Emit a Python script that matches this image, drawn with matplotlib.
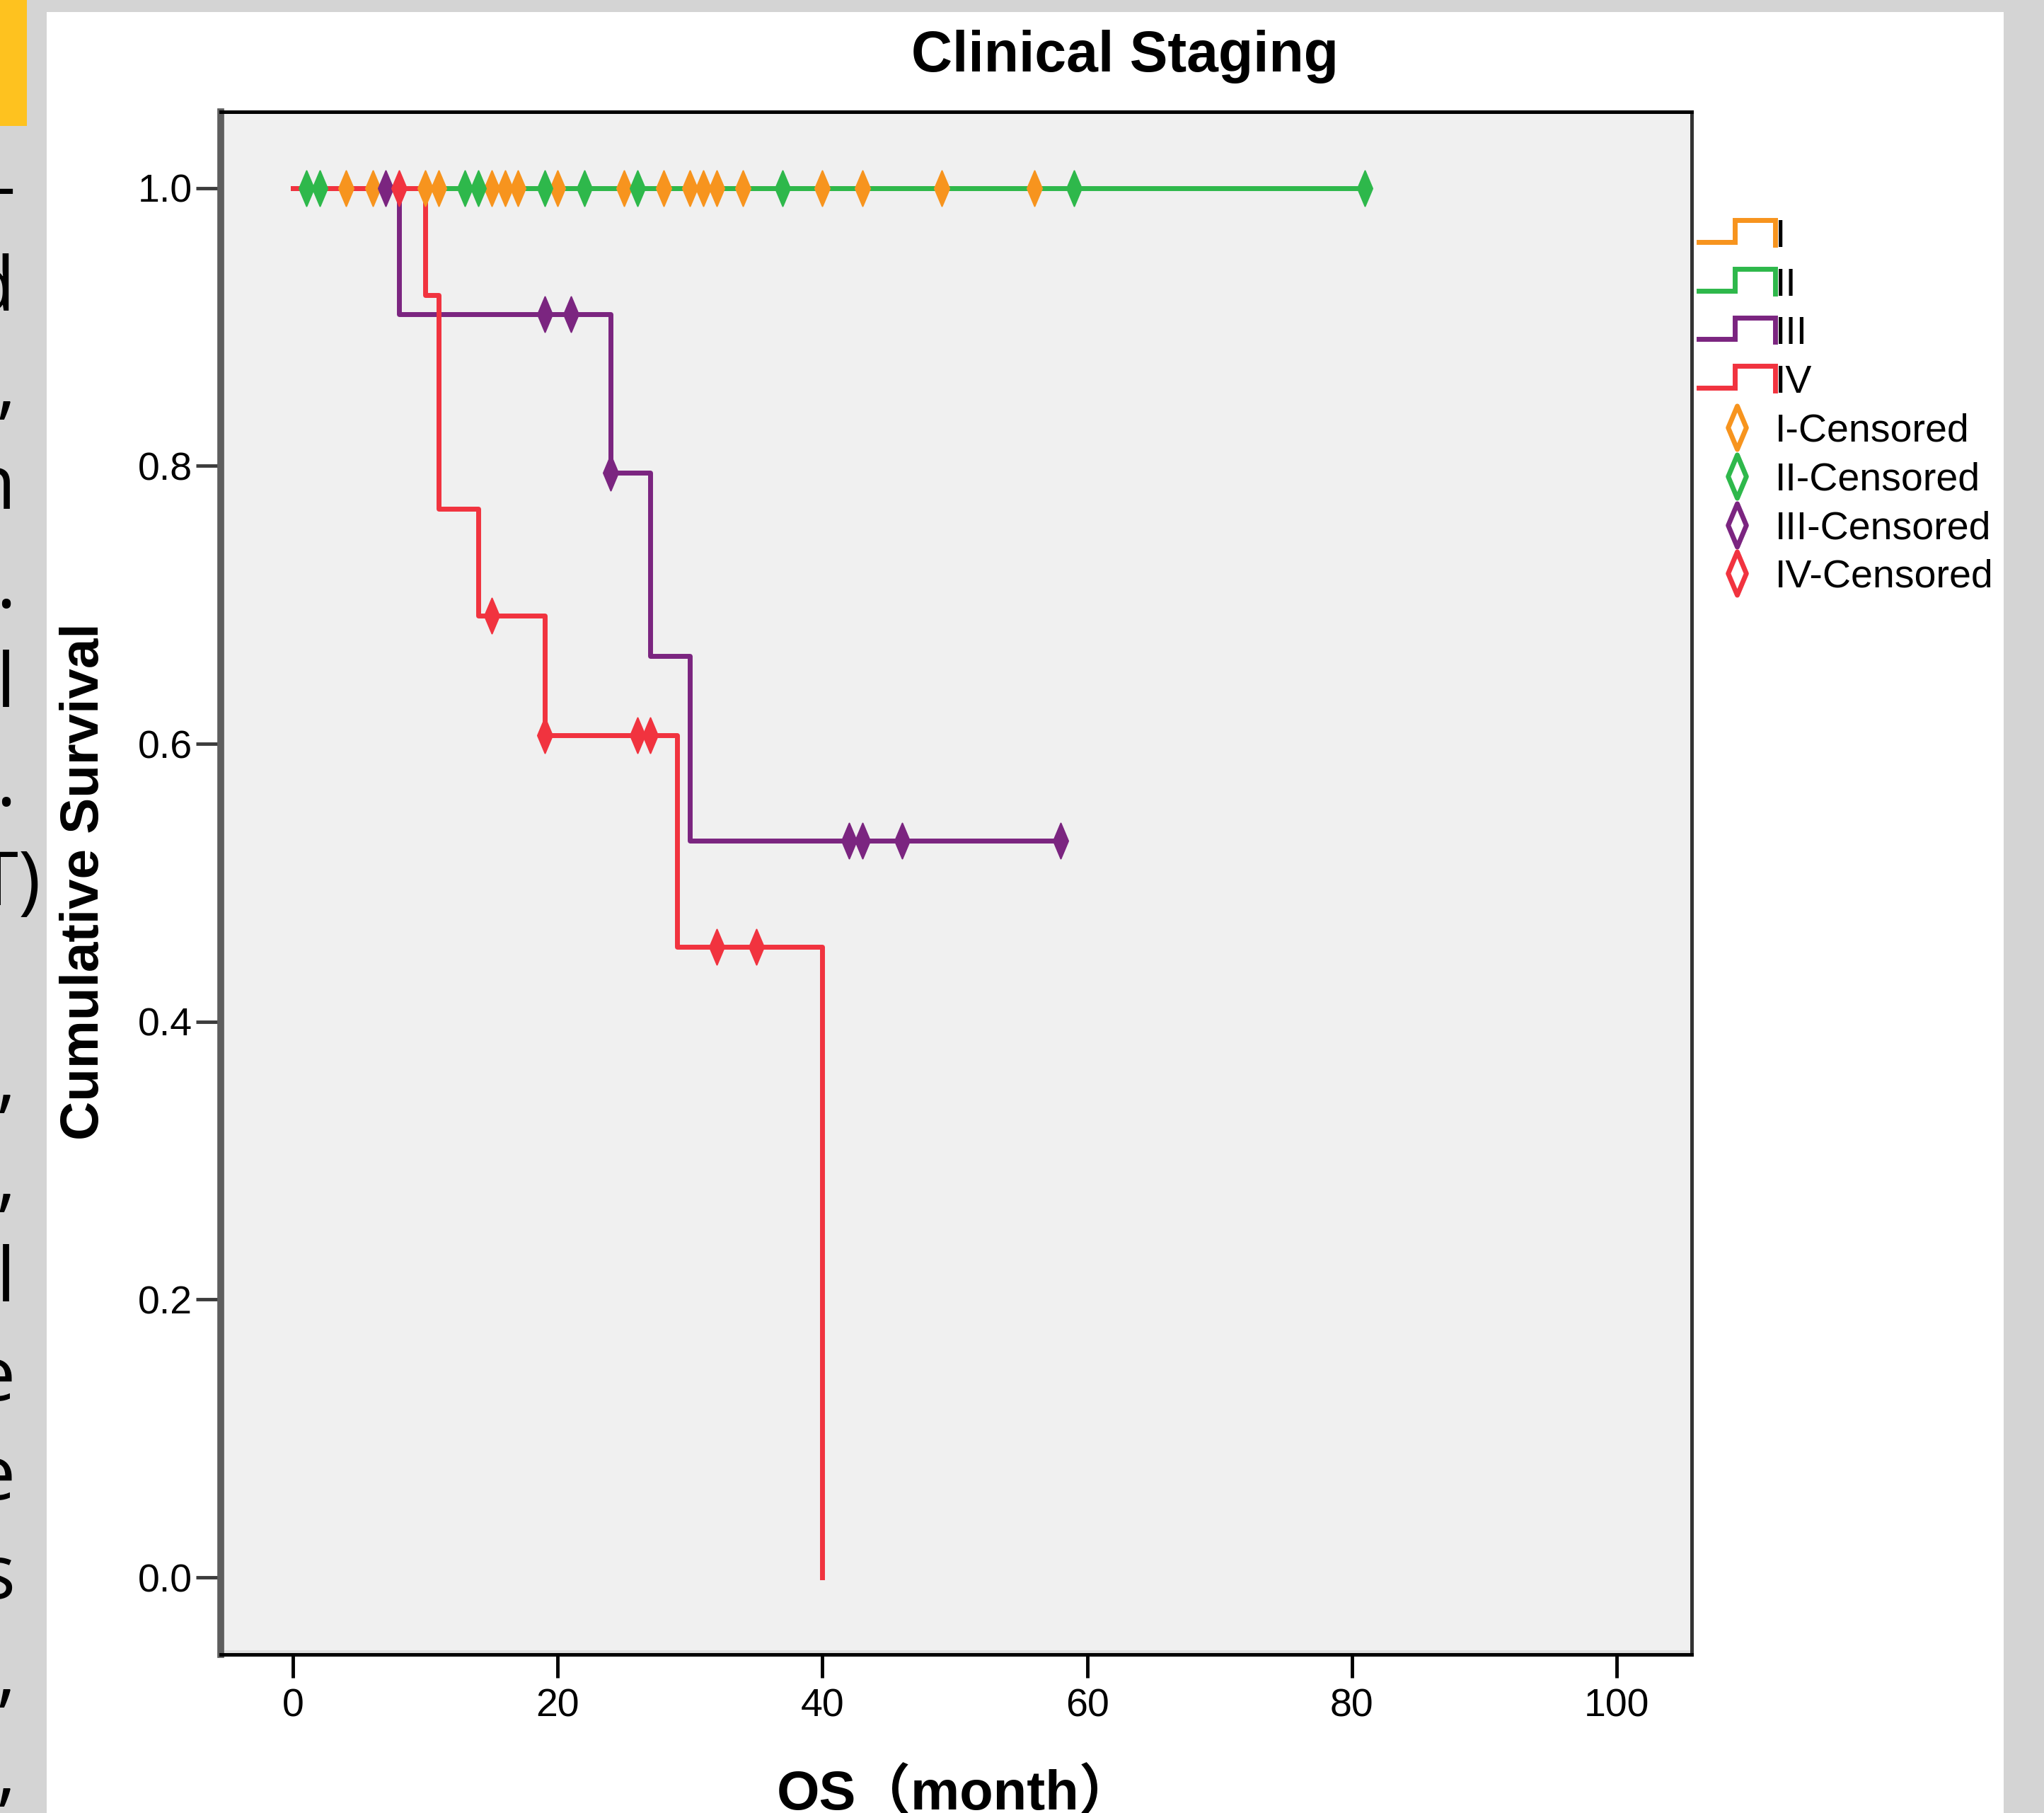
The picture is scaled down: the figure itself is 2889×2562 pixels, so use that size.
import numpy as np
import matplotlib
matplotlib.use('Agg')
import matplotlib.pyplot as plt
from matplotlib.path import Path
from matplotlib.patches import Rectangle
from matplotlib.lines import Line2D
from matplotlib.legend_handler import HandlerBase

# groups
stages = ['I', 'II', 'III', 'IV']
colors = ['#F7941E', '#2EB84B', '#7B2580', '#F1333F']

# survival steps (OS month, cumulative survival)
t_I = [0, 56]
s_I = [1.0, 1.0]
t_II = [0, 81]
s_II = [1.0, 1.0]
t_III = [0, 8, 24, 27, 30, 58]
s_III = [1.0, 0.909, 0.795, 0.663, 0.530, 0.530]
t_IV = [0, 10, 11, 14, 19, 29, 40]
s_IV = [1.0, 0.923, 0.769, 0.692, 0.606, 0.454, 0.0]

# censored cases (months)
c_I = [4, 6, 10, 11, 15, 16, 17, 20, 25, 28, 30, 31, 32, 34, 40, 43, 49, 56]
c_II = [1, 2, 13, 14, 19, 22, 26, 37, 59, 81]
c_III = [7, 19, 21, 24, 42, 43, 46, 58]
c_IV = [8, 15, 19, 26, 27, 32, 35]

xticks = [0, 20, 40, 60, 80, 100]
yticks = [0.0, 0.2, 0.4, 0.6, 0.8, 1.0]

# line ends of the slide text that is cut off on the left
side_text = ['-', 'd', ',', 'n', '.', 'l', '.', 'T)', '', ',', ',', 'l', 'e', 'e', 's', ',', ',']

plt.rcParams['font.family'] = 'Liberation Sans'

W, H = 2889, 2562
fig = plt.figure(figsize=(W / 100, H / 100), dpi=100, facecolor='#d4d4d4')
fig.add_artist(Rectangle((66 / W, 0), (2832 - 66) / W, 1 - 17 / H, transform=fig.transFigure,
                         facecolor='white', edgecolor='none', zorder=-10))
fig.add_artist(Rectangle((0, 1 - 178 / H), 38 / W, 178 / H, transform=fig.transFigure,
                         facecolor='#FEC21F', edgecolor='none', zorder=-9))

ax = fig.add_axes([312 / W, 1 - 2338 / H, (2391 - 312) / W, (2338 - 157.5) / H])
ax.set_facecolor('#f0f0f0')
ax.add_patch(Rectangle((0, 0), 1, 6 / (2338 - 157.5), transform=ax.transAxes,
                       facecolor='#dcdcdc', edgecolor='none', zorder=0.5))

times = [t_I, t_II, t_III, t_IV]
surv = [s_I, s_II, s_III, s_IV]
cens = [c_I, c_II, c_III, c_IV]

line_handles = []
for i in range(4):
    l, = ax.step(times[i], surv[i], where='post', color=colors[i], lw=5, zorder=2 + i, label=stages[i])
    line_handles.append(l)

diamond = Path([(0, 1), (0.42, 0), (0, -1), (-0.42, 0), (0, 1)],
               [Path.MOVETO, Path.LINETO, Path.LINETO, Path.LINETO, Path.CLOSEPOLY])

mark_handles = []
for i in range(4):
    t = np.array(times[i])
    s = np.array(surv[i])
    cx = np.array(cens[i])
    cy = s[np.searchsorted(t, cx, side='right') - 1]
    ax.plot(cx, cy, ls='none', marker=diamond, ms=36, mfc=colors[i], mec=colors[i], mew=1.5, zorder=10 + i)
    mark_handles.append(Line2D([], [], ls='none', marker=diamond, ms=44, mfc='white', mec=colors[i],
                               mew=5, label=stages[i] + '-Censored'))


class StepHandler(HandlerBase):
    def create_artists(self, legend, orig_handle, xdescent, ydescent, width, height, fontsize, trans):
        x0, y0 = -xdescent, -ydescent
        xs = [x0, x0 + 0.47 * width, x0 + 0.47 * width, x0 + width, x0 + width]
        ys = [y0 + 0.18 * height, y0 + 0.18 * height, y0 + 0.97 * height, y0 + 0.97 * height, y0 + 0.08 * height]
        ln = Line2D(xs, ys, color=orig_handle.get_color(), lw=orig_handle.get_linewidth(),
                    solid_joinstyle='miter', transform=trans)
        return [ln]


handles = line_handles + mark_handles
ax.legend(handles, [h.get_label() for h in handles],
          handler_map={h: StepHandler() for h in line_handles},
          loc='upper left', bbox_to_anchor=(2401 / W, 1 - 309 / H), bbox_transform=fig.transFigure,
          frameon=False, fontsize=40, handlelength=1.94, handletextpad=0.0, labelspacing=0.30,
          borderpad=0, borderaxespad=0)

ax.set_xlim(-5.47, 105.68)
ax.set_ylim(-0.0555, 1.0551)
ax.set_xticks(xticks)
ax.set_xticklabels([str(v) for v in xticks])
ax.set_yticks(yticks)
ax.set_yticklabels(['%.1f' % v for v in yticks])
ax.tick_params(axis='y', direction='out', length=25, width=3.5, color='#3c3c3c', pad=3.6, labelsize=40)
ax.tick_params(axis='x', direction='out', length=24, width=3.5, color='black', pad=10, labelsize=40)

ax.spines['left'].set_linewidth(7)
ax.spines['left'].set_color('#5e5e5e')
ax.spines['bottom'].set_linewidth(3.6)
ax.spines['top'].set_linewidth(3.6)
ax.spines['right'].set_linewidth(3.6)
ax.spines['right'].set_color('#333333')

fig.text(1590 / W, 1 - 101 / H, 'Clinical Staging', ha='center', va='baseline', fontsize=58, fontweight='bold')
fig.text(119.5 / W, 1 - 1246 / H, 'Cumulative Survival', rotation=90, ha='center', va='center',
         fontsize=55, fontweight='bold')
fig.text(1098 / W, 1 - 2557 / H, 'OS（month）', ha='left', va='baseline', fontsize=56, fontweight='bold',
         family=['Liberation Sans', 'Noto Sans CJK SC'])

for k, s in enumerate(side_text):
    if s:
        x = 57 if s == 'T)' else 22
        fig.text(x / W, 1 - (299 + 140 * k) / H, s, ha='right', va='baseline', fontsize=77, family='Open Sans')

fig.savefig('out.png', dpi=100, facecolor=fig.get_facecolor())
